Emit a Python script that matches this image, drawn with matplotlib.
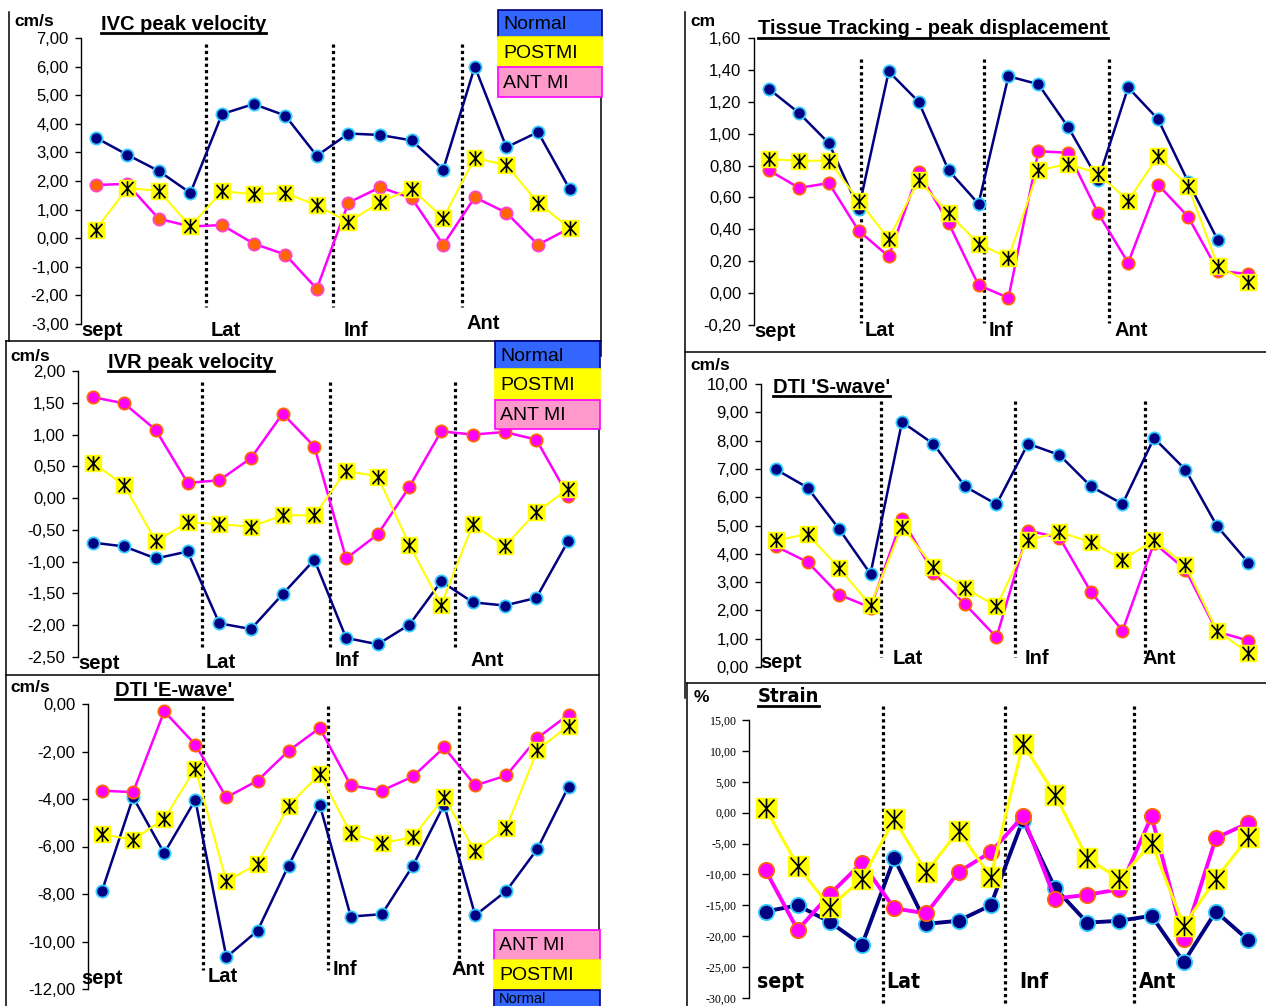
import os
import numpy as np
import matplotlib
matplotlib.use('Agg')
import matplotlib.pyplot as plt
from matplotlib.ticker import FuncFormatter, FixedLocator, NullLocator
from matplotlib.lines import Line2D
from matplotlib.patches import Rectangle
from matplotlib.path import Path
from matplotlib import font_manager

plt.rcParams['font.family'] = ['Liberation Sans', 'DejaVu Sans']


def narrow_font():
    """Return (family_list, stretch, scale) for a condensed bold font if one is installed."""
    try:
        f = font_manager.findfont(font_manager.FontProperties(family='Liberation Sans Narrow', weight='bold'),
                                  fallback_to_default=False)
        if 'Narrow' in os.path.basename(f):
            return ['Liberation Sans Narrow'], 'normal', 1.0
    except Exception:
        pass
    try:
        f = font_manager.findfont(font_manager.FontProperties(family='DejaVu Sans', stretch='condensed',
                                                              weight='bold'), fallback_to_default=False)
        if 'Condensed' in os.path.basename(f):
            return ['DejaVu Sans'], 'condensed', 0.8
    except Exception:
        pass
    return ['Liberation Sans'], 'normal', 0.8


NARROW_FAM, NARROW_STRETCH, NARROW_SCALE = narrow_font()

# ---------------- data ----------------
segments = ['sept', 'Lat', 'Inf', 'Ant']
series_names = ['Normal', 'POSTMI', 'ANT MI']

ivc_normal = [3.52, 2.92, 2.35, 1.58, 4.34, 4.69, 4.29, 2.88, 3.66, 3.61, 3.42, 2.40, 6.00, 3.18, 3.71, 1.72]
ivc_postmi = [0.29, 1.75, 1.66, 0.41, 1.64, 1.54, 1.58, 1.15, 0.56, 1.26, 1.73, 0.70, 2.81, 2.55, 1.24, 0.35]
ivc_antmi = [1.86, 1.90, 0.68, 0.41, 0.46, -0.19, -0.57, -1.77, 1.24, 1.78, 1.40, -0.23, 1.43, 0.89, -0.23, 0.35]

tt_normal = [1.28, 1.13, 0.94, 0.53, 1.39, 1.20, 0.77, 0.56, 1.36, 1.31, 1.04, 0.71, 1.29, 1.09, 0.70, 0.33]
tt_postmi = [0.84, 0.83, 0.83, 0.58, 0.34, 0.71, 0.50, 0.31, 0.22, 0.77, 0.81, 0.75, 0.58, 0.86, 0.67, 0.17, 0.07]
tt_antmi = [0.77, 0.66, 0.69, 0.39, 0.23, 0.76, 0.44, 0.05, -0.03, 0.89, 0.88, 0.50, 0.19, 0.68, 0.48, 0.14, 0.12]

ivr_normal = [-0.70, -0.76, -0.95, -0.84, -1.97, -2.06, -1.51, -0.97, -2.20, -2.30, -1.99, -1.31, -1.64, -1.69, -1.57, -0.68]
ivr_postmi = [0.56, 0.20, -0.68, -0.38, -0.41, -0.45, -0.27, -0.27, 0.43, 0.34, -0.74, -1.68, -0.41, -0.76, -0.22, 0.14]
ivr_antmi = [1.59, 1.49, 1.07, 0.24, 0.28, 0.63, 1.33, 0.81, -0.95, -0.57, 0.18, 1.05, 1.00, 1.04, 0.92, 0.04]

s_normal = [6.98, 6.34, 4.88, 3.29, 8.66, 7.88, 6.38, 5.75, 7.89, 7.49, 6.38, 5.76, 8.09, 6.97, 4.98, 3.68]
s_postmi = [4.47, 4.70, 3.50, 2.18, 4.96, 3.54, 2.79, 2.14, 4.49, 4.76, 4.42, 3.79, 4.47, 3.59, 1.28, 0.49]
s_antmi = [4.26, 3.71, 2.56, 2.10, 5.22, 3.33, 2.22, 1.05, 4.82, 4.57, 2.65, 1.28, 4.38, 3.44, 1.25, 0.93]

e_normal = [-7.87, -3.93, -6.28, -4.04, -10.66, -9.55, -6.80, -4.24, -8.95, -8.85, -6.80, -4.24, -8.90, -7.87, -6.10, -3.48]
e_postmi = [-5.48, -5.72, -4.83, -2.72, -7.47, -6.73, -4.28, -2.95, -5.45, -5.86, -5.60, -3.93, -6.21, -5.22, -1.94, -0.91]
e_antmi = [-3.65, -3.71, -0.31, -1.71, -3.93, -3.23, -1.97, -1.01, -3.43, -3.65, -3.05, -1.83, -3.43, -3.01, -1.43, -0.45]

strain_normal = [-16.0, -15.0, -17.7, -21.4, -7.4, -18.0, -17.5, -15.0, -1.2, -12.2, -17.8, -17.5, -16.7, -24.2, -16.0, -20.6]
strain_postmi = [0.7, -8.6, -15.3, -10.7, -1.1, -9.6, -2.9, -10.4, 11.1, 2.9, -7.3, -10.8, -4.9, -18.3, -10.7, -4.0]
strain_antmi = [-9.3, -19.0, -13.2, -8.1, -15.5, -16.3, -9.6, -6.4, -0.6, -13.9, -13.3, -12.4, -0.6, -20.5, -4.1, -1.7]

titles = ['IVC peak velocity', 'Tissue Tracking - peak displacement', 'IVR peak velocity',
          "DTI 'S-wave'", "DTI 'E-wave'", 'Strain']
units = ['cm/s', 'cm', 'cm/s', 'cm/s', 'cm/s', '%']

# ---------------- layout / style ----------------
W, H = 1266, 1006
fig = plt.figure(figsize=(W / 100, H / 100), dpi=100)

NAVY = '#000080'
CYAN = '#33CCFF'
YEL = '#FFFF00'
MAG = '#FF00FF'
ORANGE = '#FF6600'

STAR = Path([(-0.9, -1), (0.9, 1), (-0.9, 1), (0.9, -1), (0, -1.1), (0, 1.1)],
            [Path.MOVETO, Path.LINETO, Path.MOVETO, Path.LINETO, Path.MOVETO, Path.LINETO])


def fx(x):
    return x / W


def fy(y):
    return 1 - y / H


panels = [
    dict(data=(ivc_normal, ivc_postmi, ivc_antmi), axis=81, x0=95.6, dx=31.6, right=598,
         ytop=38, ybot=324, ylim=(-3, 7), step=1.0,
         div=(3.5, 7.51, 11.58), divy=(6.78, -2.40),
         lab=[(-0.44, -3.24), (3.64, -3.24), (7.85, -3.24), (11.73, -2.98)],
         unit=(14, 21), title=(101, 24), ant_face=ORANGE, ant_edge='#FF44CC', big=False),
    dict(data=(tt_normal, tt_postmi, tt_antmi), axis=754, x0=769, dx=29.93, right=1262,
         ytop=38, ybot=325, ylim=(-0.2, 1.6), step=0.2,
         div=(3.06, 7.2, 11.36), divy=(1.47, -0.185),
         lab=[(-0.5, -0.238), (3.18, -0.235), (7.33, -0.235), (11.55, -0.235)],
         unit=(690, 21), title=(758, 29), ant_face=MAG, ant_edge=ORANGE, big=False),
    dict(data=(ivr_normal, ivr_postmi, ivr_antmi), axis=77.7, x0=92.5, dx=31.7, right=598,
         ytop=371, ybot=657, ylim=(-2.5, 2), step=0.5,
         div=(3.44, 7.48, 11.44), divy=(1.82, -2.34),
         lab=[(-0.44, -2.60), (3.58, -2.59), (7.63, -2.56), (11.93, -2.56)],
         unit=(10, 356), title=(108, 362), ant_face=MAG, ant_edge=ORANGE, big=False),
    dict(data=(s_normal, s_postmi, s_antmi), axis=761, x0=776, dx=31.5, right=1262,
         ytop=384, ybot=667, ylim=(0, 10), step=1.0,
         div=(3.33, 7.58, 11.73), divy=(9.39, 0.35),
         lab=[(-0.51, 0.17), (3.71, 0.29), (7.9, 0.29), (11.63, 0.29)],
         unit=(690, 366), title=(773, 387), ant_face=MAG, ant_edge=ORANGE, big=False),
    dict(data=(e_normal, e_postmi, e_antmi), axis=88, x0=102, dx=31.1, right=598,
         ytop=704, ybot=989, ylim=(-12, 0), step=2.0,
         div=(3.25, 7.26, 11.49), divy=(-0.10, -11.19),
         lab=[(-0.66, -11.57), (3.41, -11.47), (7.42, -11.19), (11.24, -11.19)],
         unit=(10, 687), title=(115, 690), ant_face=MAG, ant_edge=ORANGE, big=False),
    dict(data=(strain_normal, strain_postmi, strain_antmi), axis=749, x0=765.5, dx=32.17, right=1262,
         ytop=720, ybot=998, ylim=(-30, 15), step=5.0,
         div=(3.64, 7.43, 11.44), divy=(17.3, -32.5),
         lab=[(-0.26, -27.4), (3.76, -27.4), (7.89, -27.4), (11.62, -27.4)],
         unit=(694, 697), title=(758, 697), ant_face=MAG, ant_edge=ORANGE, big=True),
]

fmt = FuncFormatter(lambda v, p: f"{round(v, 2):.2f}".replace('.', ',').replace('-0,00', '0,00'))

title_texts = []
for i, cfg in enumerate(panels):
    normal, postmi, antmi = cfg['data']
    left = fx(cfg['axis'])
    width = (cfg['right'] - cfg['axis']) / W
    bottom = fy(cfg['ybot'])
    height = (cfg['ybot'] - cfg['ytop']) / H
    ax = fig.add_axes([left, bottom, width, height])
    ax.patch.set_alpha(0)
    ax.set_xlim((cfg['axis'] - cfg['x0']) / cfg['dx'], (cfg['right'] - cfg['x0']) / cfg['dx'])
    ax.set_ylim(*cfg['ylim'])
    for s in ('top', 'right', 'bottom'):
        ax.spines[s].set_visible(False)
    ax.spines['left'].set_linewidth(1.0)
    ax.xaxis.set_major_locator(NullLocator())
    ticks = np.round(np.arange(cfg['ylim'][0], cfg['ylim'][1] + cfg['step'] / 2, cfg['step']), 2)
    ax.yaxis.set_major_locator(FixedLocator(ticks))
    ax.yaxis.set_major_formatter(fmt)
    big = cfg['big']
    if big:
        ax.tick_params(axis='y', direction='out', length=5, width=1, pad=4, labelsize=8.6,
                       labelfontfamily='Liberation Serif')
    else:
        ax.tick_params(axis='y', direction='out', length=4, width=1, pad=5, labelsize=12)

    lw_main = 2.8 if big else 1.8
    lw_y = 2.2 if big else 1.5
    ms_c = 11 if big else 8.8
    ms_s = 15 if big else 11.5
    ms_star = 14 if big else 10.5

    xn = np.arange(len(normal))
    xp = np.arange(len(postmi))
    xa = np.arange(len(antmi))
    ax.plot(xn, normal, color=NAVY, lw=lw_main, marker='o', ms=ms_c, mfc=NAVY, mec=CYAN,
            mew=1.3, clip_on=False, zorder=3)
    ax.plot(xa, antmi, color=MAG, lw=lw_main, marker='o', ms=ms_c, mfc=cfg['ant_face'],
            mec=cfg['ant_edge'], mew=1.3, clip_on=False, zorder=4)
    ax.plot(xp, postmi, color=YEL, lw=lw_y, marker='s', ms=ms_s, mfc=YEL, mec=YEL,
            clip_on=False, zorder=5)
    ax.plot(xp, postmi, ls='none', marker=STAR, ms=ms_star, mfc='none', mec='black',
            mew=1.2, clip_on=False, zorder=6)

    for d in cfg['div']:
        ax.plot([d, d], list(cfg['divy']), color='black', lw=2.3, ls=(0, (1, 1)),
                clip_on=False, zorder=2)

    for name, (lx, ly) in zip(segments, cfg['lab']):
        if big:
            ax.text(lx, ly, name, ha='left', va='center', fontsize=19 * NARROW_SCALE,
                    fontweight='bold', family=NARROW_FAM, fontstretch=NARROW_STRETCH,
                    clip_on=False, zorder=7)
        else:
            ax.text(lx, ly, name, ha='left', va='center', fontsize=14.5, fontweight='bold',
                    clip_on=False, zorder=7)

    ux, uy = cfg['unit']
    fig.text(fx(ux), fy(uy), units[i], ha='left', va='center', fontsize=12.5, fontweight='bold')
    tx, ty = cfg['title']
    if big:
        t = fig.text(fx(tx), fy(ty), titles[i], ha='left', va='center', fontsize=18 * NARROW_SCALE,
                     fontweight='bold', family=NARROW_FAM, fontstretch=NARROW_STRETCH)
    else:
        t = fig.text(fx(tx), fy(ty), titles[i], ha='left', va='center', fontsize=14.5,
                     fontweight='bold')
    title_texts.append(t)

# ---------------- legend boxes ----------------
leg_styles = {
    'Normal': dict(fc='#3366FF', ec=NAVY),
    'POSTMI': dict(fc=YEL, ec=YEL),
    'ANT MI': dict(fc='#FF99CC', ec=MAG),
}
legend_boxes = [
    (498, 602, [('Normal', 10, 37), ('POSTMI', 37, 67), ('ANT MI', 67, 97)]),
    (495, 600, [('Normal', 341, 369), ('POSTMI', 369, 400), ('ANT MI', 400, 429)]),
    (494, 600, [('ANT MI', 930, 960), ('POSTMI', 960, 990), ('Normal', 990, 1020)]),
]
for x0, x1, rows in legend_boxes:
    for name, y0, y1 in rows:
        st = leg_styles[name]
        fig.add_artist(Rectangle((fx(x0), fy(y1)), (x1 - x0) / W, (y1 - y0) / H,
                                 transform=fig.transFigure, facecolor=st['fc'],
                                 edgecolor=st['ec'], lw=1.2, zorder=10))
        if y1 > H:
            # last box runs off the bottom edge: keep its label fully visible
            fig.text(fx(x0 + 5), fy(1003), name, ha='left', va='baseline',
                     fontsize=10.5, zorder=11)
        else:
            fig.text(fx(x0 + 5), fy((y0 + y1) / 2 + 1), name, ha='left', va='center',
                     fontsize=14, zorder=11)

# ---------------- frames ----------------
frames = [(9, 12, 9, 341), (6, 341, 601, 341), (601, 97, 601, 356), (6, 341, 6, 1006),
          (6, 675, 599, 675), (599, 429, 599, 930), (685, 12, 685, 698),
          (685, 352, 1266, 352), (687, 683, 687, 1006), (687, 683, 1266, 683)]
for xa_, ya_, xb_, yb_ in frames:
    fig.add_artist(Line2D([fx(xa_), fx(xb_)], [fy(ya_), fy(yb_)], transform=fig.transFigure,
                          color='black', lw=1.1, zorder=1))

# ---------------- underlines ----------------
fig.canvas.draw()
for t in title_texts:
    bb = t.get_window_extent()
    yline = bb.y0 + 1
    fig.add_artist(Line2D([bb.x0 / W, bb.x1 / W], [yline / H, yline / H],
                          transform=fig.transFigure, color='black', lw=2.0))

fig.savefig('out.png', dpi=100)
